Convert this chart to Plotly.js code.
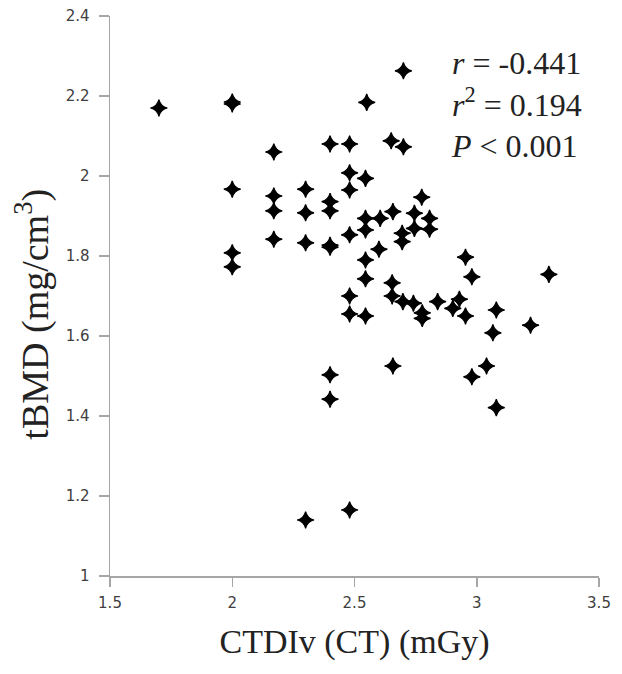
<!DOCTYPE html>
<html>
<head>
<meta charset="utf-8">
<script src="https://cdn.plot.ly/plotly-3.0.1.min.js"></script>
<style>
  body { margin: 0; background: #fff; }
  #chart { width: 622px; height: 674px; }
</style>
</head>
<body>
<div id="chart"></div>
<script>
// CTDIv (mGy) and tBMD (mg/cm3)
var ctdi = [1.70, 2.00, 2.00, 2.17, 2.40, 2.48, 2.48, 2.00, 2.48, 2.17,
            2.17, 2.30, 2.30, 2.40, 2.40, 2.17, 2.30, 2.40, 2.40, 2.48,
            2.00, 2.00, 2.48, 2.48, 2.40, 2.40, 2.30, 2.48, 2.70, 2.55,
            2.65, 2.70, 2.545, 2.775, 2.545, 2.605, 2.657, 2.745, 2.807, 2.545,
            2.745, 2.807, 2.695, 2.695, 2.60, 2.545, 2.954, 2.98, 2.545, 2.654,
            2.654, 2.698, 2.741, 2.777, 2.777, 2.84, 2.929, 2.902, 2.954, 3.08,
            3.066, 2.545, 3.295, 3.22, 2.657, 3.04, 2.98, 3.08];
var tbmd = [2.17, 2.18, 2.185, 2.06, 2.08, 2.08, 2.008, 1.967, 1.965, 1.95,
            1.913, 1.967, 1.908, 1.936, 1.913, 1.842, 1.833, 1.822, 1.827, 1.853,
            1.808, 1.773, 1.70, 1.655, 1.503, 1.442, 1.14, 1.165, 2.263, 2.184,
            2.088, 2.073, 1.994, 1.947, 1.894, 1.894, 1.911, 1.907, 1.894, 1.865,
            1.869, 1.867, 1.857, 1.836, 1.817, 1.79, 1.797, 1.748, 1.743, 1.733,
            1.70, 1.686, 1.682, 1.658, 1.644, 1.686, 1.692, 1.669, 1.65, 1.665,
            1.608, 1.65, 1.754, 1.627, 1.525, 1.525, 1.498, 1.421];

var statLines = ['<i>r</i> = -0.441', '<i>r</i><sup>2</sup> = 0.194', '<i>P</i> &lt; 0.001'];

var trace = {
    x: ctdi,
    y: tbmd,
    mode: 'markers',
    type: 'scatter',
    marker: { symbol: 'star-diamond', size: 12, color: '#000',
              line: { color: '#000', width: 1.2 } },
    hoverinfo: 'x+y'
};

var axisStyle = {
    showgrid: false,
    zeroline: false,
    showline: true,
    linecolor: '#a6a6a6',
    linewidth: 1.5,
    ticks: 'outside',
    tickwidth: 1.5,
    tickcolor: '#a6a6a6',
    tickfont: { family: 'DejaVu Sans', size: 15, color: '#404040' }
};

var serif = { family: 'Liberation Serif', color: '#222' };

var annotations = [{
    x: 2.885, y: 2.18, xref: 'x', yref: 'y',
    text: statLines.join('<br>'), showarrow: false, align: 'left',
    xanchor: 'left', yanchor: 'middle',
    font: Object.assign({ size: 32 }, serif)
}, {
    // y title placed as an annotation so it sits where the original does
    x: -0.158, y: 0.468, xref: 'paper', yref: 'paper',
    text: 'tBMD (mg/cm<sup>3</sup>)', textangle: -90, showarrow: false,
    xanchor: 'center', yanchor: 'middle',
    font: Object.assign({ size: 38 }, serif)
}];

var layout = {
    width: 622,
    height: 674,
    margin: { l: 110, r: 23, t: 16, b: 98 },
    paper_bgcolor: '#fff',
    plot_bgcolor: '#fff',
    showlegend: false,
    xaxis: Object.assign({}, axisStyle, {
        range: [1.5, 3.5],
        dtick: 0.5,
        ticklen: 9,
        ticklabelstandoff: 3,
        title: { text: 'CTDIv (CT) (mGy)', standoff: 18,
                 font: Object.assign({ size: 34 }, serif) }
    }),
    yaxis: Object.assign({}, axisStyle, {
        range: [1, 2.4],
        dtick: 0.2,
        ticklen: 10,
        ticklabelstandoff: 6
    }),
    annotations: annotations
};

Plotly.newPlot('chart', [trace], layout, { displayModeBar: false, staticPlot: true });
</script>
</body>
</html>
